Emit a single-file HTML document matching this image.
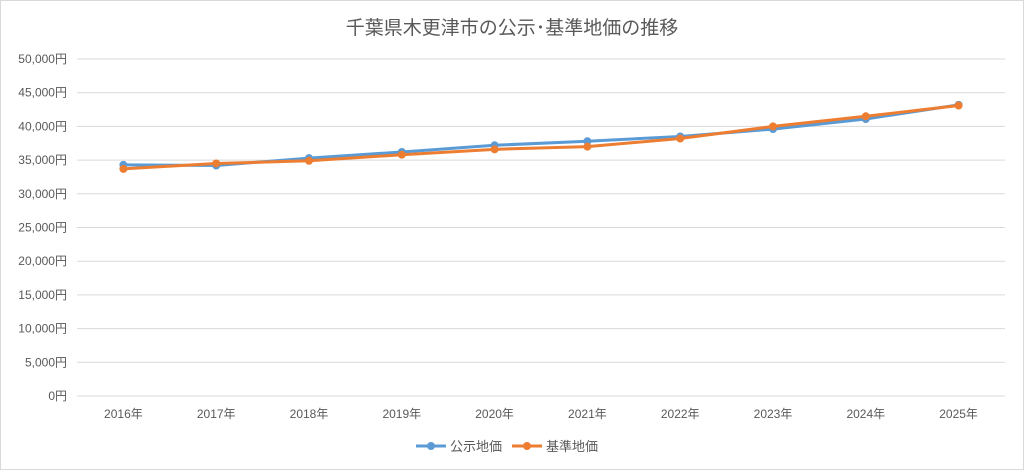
<!DOCTYPE html>
<html><head><meta charset="utf-8"><style>
body{margin:0;background:#fff;font-family:"Liberation Sans","Noto Sans CJK JP",sans-serif;}
svg text{font-family:"Liberation Sans","Noto Sans CJK JP",sans-serif;}
</style></head><body>
<svg id="c" width="1024" height="470">
<rect x="0.5" y="0.5" width="1023" height="469" fill="#fff" stroke="#d9d9d9"/>
<text x="512" y="34" text-anchor="middle" font-size="19" fill="#595959">千葉県木更津市の公示･基準地価の推移</text>
<g id="grid"></g><g id="marks"></g>
<g>
<line x1="416" y1="446" x2="446" y2="446" stroke="#5b9bd5" stroke-width="3"/><circle cx="431" cy="446" r="4" fill="#5b9bd5"/>
<text x="450" y="451" font-size="13" fill="#595959">公示地価</text>
<line x1="512" y1="446" x2="542" y2="446" stroke="#ed7d31" stroke-width="3"/><circle cx="527" cy="446" r="4" fill="#ed7d31"/>
<text x="546" y="451" font-size="13" fill="#595959">基準地価</text>
</g>
</svg>
<script>
const categories=["2016年","2017年","2018年","2019年","2020年","2021年","2022年","2023年","2024年","2025年"];
const kojiValues=[34300,34200,35300,36200,37200,37800,38500,39600,41100,43200];
const kijunValues=[33700,34500,34900,35800,36600,37000,38200,40000,41500,43100];
const yTicks=[0,5000,10000,15000,20000,25000,30000,35000,40000,45000,50000];
const NS="http://www.w3.org/2000/svg";
const x0=77,x1=1005,y0=396,y1=59;
const xs=i=>x0+(i+0.5)*(x1-x0)/categories.length;
const ys=v=>y0-(v/50000)*(y0-y1);
const g=document.getElementById('grid'),m=document.getElementById('marks');
function el(t,a,p){const e=document.createElementNS(NS,t);for(const k in a)e.setAttribute(k,a[k]);p.appendChild(e);return e;}
yTicks.forEach(v=>{
 const y=ys(v);
 const l=el('line',{x1:x0,x2:x1,y1:y,y2:y,stroke:'#d9d9d9','stroke-width':1},g);
 
 
 const t=el('text',{x:67,y:y+4,'text-anchor':'end','font-size':12,fill:'#595959'},g);
 t.textContent=v.toLocaleString('en-US')+'円';
 
 
});
categories.forEach((c,i)=>{
 const t=el('text',{x:xs(i),y:418,'text-anchor':'middle','font-size':12,fill:'#595959'},g);
 t.textContent=c;
 
 
});
function series(vals,col,name){
 const p=el('polyline',{points:vals.map((v,i)=>xs(i)+','+ys(v)).join(' '),fill:'none',stroke:col,'stroke-width':3,'stroke-linejoin':'round'},m);
 
 
 vals.forEach((v,i)=>{
  const c=el('circle',{cx:xs(i),cy:ys(v),r:4,fill:col},m);
  
  
 });
}
series(kojiValues,'#5b9bd5','koji');
series(kijunValues,'#ed7d31','kijun');
</script>
</body></html>
